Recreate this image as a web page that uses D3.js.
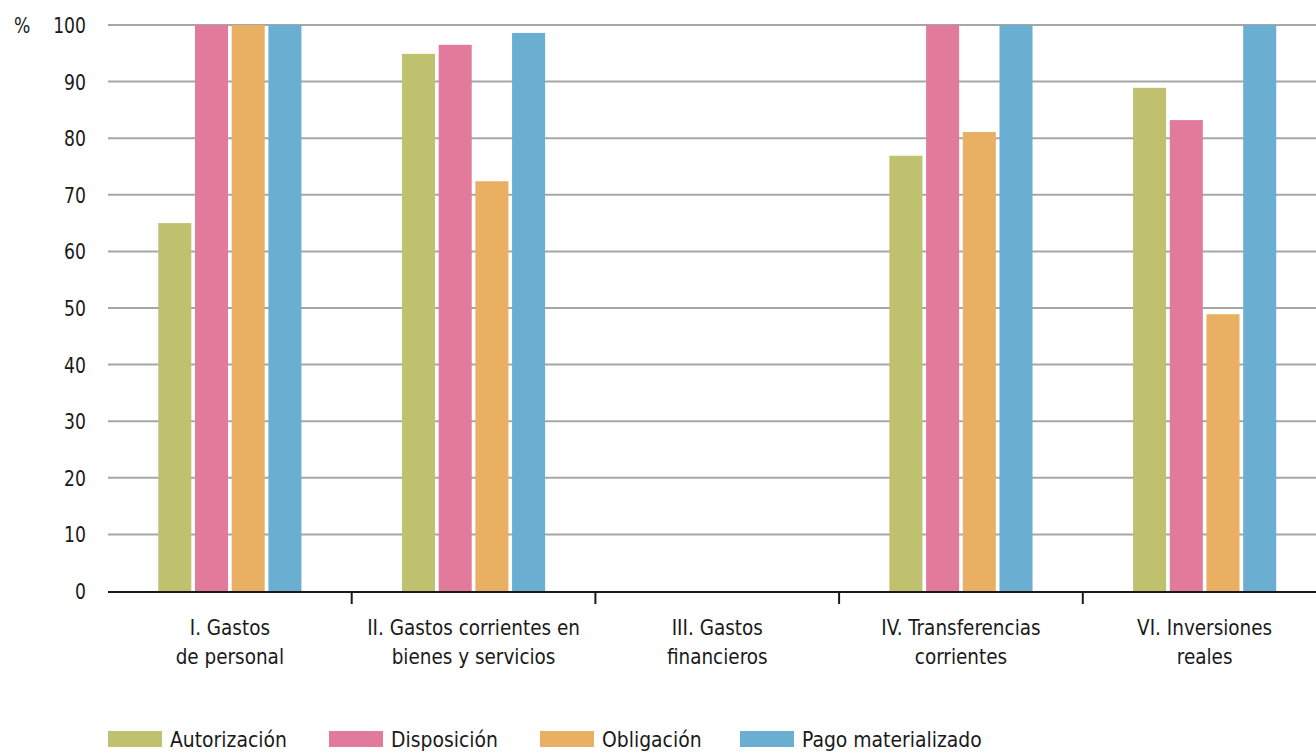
<!DOCTYPE html>
<html>
<head>
<meta charset="utf-8">
<script src="https://cdn.jsdelivr.net/npm/d3@7"></script>
<style>
  html, body { margin: 0; padding: 0; background: #fff; overflow: hidden; }
  svg { display: block; }
  text { font-family: "DejaVu Sans Condensed", "Liberation Sans Narrow", "Roboto", sans-serif; fill: #1a1a1a; }
</style>
</head>
<body>
<svg id="chart" width="1316" height="753"></svg>
<script>
const categories = [
  ["I. Gastos", "de personal"],
  ["II. Gastos corrientes en", "bienes y servicios"],
  ["III. Gastos", "financieros"],
  ["IV. Transferencias", "corrientes"],
  ["VI. Inversiones", "reales"]
];
const seriesNames = ["Autorización", "Disposición", "Obligación", "Pago materializado"];
const seriesColors = ["#bfc16e", "#e27b9b", "#e9af62", "#6aaed2"];
const autorizacion = [65, 94.9, null, 76.9, 88.9];
const disposicion  = [100, 96.5, null, 100, 83.2];
const obligacion   = [100, 72.4, null, 81.1, 48.9];
const pago         = [100, 98.6, null, 100, 100];
const yTicks = [0, 10, 20, 30, 40, 50, 60, 70, 80, 90, 100];

const seriesValues = [autorizacion, disposicion, obligacion, pago];

const svg = d3.select("#chart");
const mLeft = 108, mRight = 1326.5, mTop = 25, mBottom = 591;
const FS = 22;

const x0 = d3.scaleBand().domain(d3.range(categories.length)).range([mLeft, mRight]).paddingInner(0).paddingOuter(0);
const x1 = d3.scaleBand().domain(d3.range(seriesNames.length)).range([0, x0.bandwidth()]).paddingInner(0.1).paddingOuter(1.37);
const y = d3.scaleLinear().domain([0, 100]).range([mBottom, mTop]);

// gridlines
svg.append("g").selectAll("line").data(yTicks.filter(d => d > 0)).join("line")
  .attr("x1", mLeft).attr("x2", 1316)
  .attr("y1", d => y(d)).attr("y2", d => y(d))
  .attr("stroke", "#a6a6a6").attr("stroke-width", 2);

// y tick labels
svg.append("g").selectAll("text").data(yTicks).join("text")
  .attr("transform", d => `translate(86,${y(d)}) scale(0.87,1)`)
  .attr("dy", "0.36em")
  .attr("text-anchor", "end").attr("font-size", FS)
  .text(d => d);
svg.append("text").attr("transform", `translate(14,${y(100)}) scale(0.87,1)`).attr("dy", "0.36em")
  .attr("font-size", FS).text("%");

// bars
const data = [];
categories.forEach((c, i) => seriesValues.forEach((s, j) => {
  if (s[i] != null) data.push({ c: i, s: j, v: s[i] });
}));
svg.append("g").selectAll("rect").data(data).join("rect")
  .attr("x", d => x0(d.c) + x1(d.s))
  .attr("width", x1.bandwidth())
  .attr("y", d => y(d.v))
  .attr("height", d => y(0) - y(d.v))
  .attr("fill", d => seriesColors[d.s]);

// x axis baseline & ticks
svg.append("line").attr("x1", mLeft).attr("x2", 1316).attr("y1", mBottom + 1).attr("y2", mBottom + 1)
  .attr("stroke", "#1a1a1a").attr("stroke-width", 2);
svg.append("g").selectAll("line").data(d3.range(1, categories.length)).join("line")
  .attr("x1", d => x0(d)).attr("x2", d => x0(d))
  .attr("y1", mBottom + 1).attr("y2", mBottom + 13)
  .attr("stroke", "#1a1a1a").attr("stroke-width", 2);

// category labels
const lab = svg.append("g").selectAll("text").data(categories).join("text")
  .attr("transform", (d, i) => `translate(${x0(i) + x0.bandwidth() / 2},635) scale(0.93,1)`)
  .attr("text-anchor", "middle").attr("font-size", FS);
lab.selectAll("tspan").data(d => d).join("tspan")
  .attr("x", 0)
  .attr("y", (d, k) => k * 29)
  .text(d => d);

// legend
const legendX = [108, 329, 540, 740];
const lg = svg.append("g").selectAll("g").data(seriesNames).join("g")
  .attr("transform", (d, i) => `translate(${legendX[i]},731)`);
lg.append("rect").attr("width", 54).attr("height", 16).attr("fill", (d, i) => seriesColors[i]);
lg.append("text").attr("transform", "translate(62,16) scale(0.95,1)").attr("font-size", FS).text(d => d);
</script>
</body>
</html>
